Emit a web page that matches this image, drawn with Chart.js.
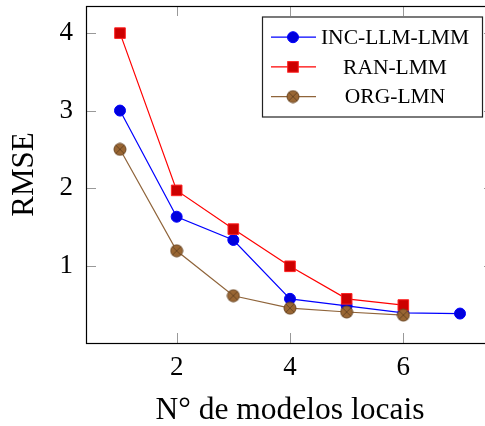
<!DOCTYPE html>
<html>
<head>
<meta charset="utf-8">
<script src="https://cdn.jsdelivr.net/npm/chart.js@4/dist/chart.umd.min.js"></script>
<style>
  html, body { margin: 0; padding: 0; background: #fff; overflow: hidden; }
  #c { display: block; }
</style>
</head>
<body>
<canvas id="c" width="495" height="426"></canvas>
<script>
// Number of local models on the x axis
const models = [1, 2, 3, 4, 5, 6, 7];
// RMSE per method
const incLlmLmm = [3.0, 1.63, 1.33, 0.57, 0.48, 0.39, 0.38];
const ranLmm    = [4.0, 1.97, 1.47, 0.99, 0.57, 0.49];
const orgLmn    = [2.5, 1.19, 0.61, 0.45, 0.40, 0.36];
// Tick labels
const xTicks = [2, 4, 6];
const yTicks = [1, 2, 3, 4];

const SERIF = '"Liberation Serif", "Times New Roman", serif';

function pairs(vals) {
  return vals.map((v, i) => ({ x: models[i], y: v }));
}

// circle-with-cross marker
function crossCircle(r, fill, stroke) {
  const s = Math.ceil(2 * r + 2);
  const cv = document.createElement('canvas');
  cv.width = s; cv.height = s;
  const g = cv.getContext('2d');
  const c = s / 2;
  g.beginPath();
  g.arc(c, c, r, 0, Math.PI * 2);
  g.fillStyle = fill;
  g.fill();
  g.lineWidth = 1;
  g.strokeStyle = stroke;
  g.stroke();
  const d = r * Math.SQRT1_2;
  g.beginPath();
  g.moveTo(c - d, c - d); g.lineTo(c + d, c + d);
  g.moveTo(c - d, c + d); g.lineTo(c + d, c - d);
  g.strokeStyle = stroke;
  g.stroke();
  return cv;
}
const brownMark = crossCircle(6, '#996633', '#6b4622');

// inward ticks and the axis frame
const framePlugin = {
  id: 'frame',
  afterDatasetsDraw(chart) {
    const { ctx, chartArea: a, scales } = chart;
    ctx.save();
    ctx.strokeStyle = '#999999';
    ctx.lineWidth = 1;
    const L = 10;
    ctx.beginPath();
    xTicks.forEach(v => {
      const px = Math.round(scales.x.getPixelForValue(v)) + 0.5;
      ctx.moveTo(px, a.bottom); ctx.lineTo(px, a.bottom - L);
      ctx.moveTo(px, a.top); ctx.lineTo(px, a.top + L);
    });
    yTicks.forEach(v => {
      const py = Math.round(scales.y.getPixelForValue(v)) + 0.5;
      ctx.moveTo(a.left, py); ctx.lineTo(a.left + L, py);
      ctx.moveTo(a.right, py); ctx.lineTo(a.right - L, py);
    });
    ctx.stroke();
    ctx.strokeStyle = '#000';
    ctx.lineWidth = 1.2;
    ctx.strokeRect(Math.round(a.left) + 0.5, Math.round(a.top) + 0.5,
                   Math.round(a.right - a.left), Math.round(a.bottom - a.top));
    ctx.restore();
  }
};

// boxed legend in the upper right of the plot area
const legendBox = {
  id: 'legendBox',
  afterDraw(chart) {
    const { ctx } = chart;
    const w = 220, h = 100;
    const x0 = 262, y0 = 16.5;
    ctx.save();
    ctx.fillStyle = '#fff';
    ctx.fillRect(x0, y0, w, h);
    ctx.strokeStyle = '#222';
    ctx.lineWidth = 1.2;
    ctx.strokeRect(x0 + 0.5, y0 + 0.5, w, h);
    [0, 1, 2].forEach((di, row) => {
      const ds = chart.data.datasets[di];
      const cy = y0 + 20.7 + row * 29.7;
      ctx.strokeStyle = ds.borderColor;
      ctx.lineWidth = 1.3;
      ctx.beginPath();
      ctx.moveTo(x0 + 9, cy); ctx.lineTo(x0 + 54, cy);
      ctx.stroke();
      const mx = x0 + 31;
      if (ds.pointStyle === 'circle') {
        ctx.beginPath();
        ctx.arc(mx, cy, ds.pointRadius, 0, Math.PI * 2);
        ctx.fillStyle = ds.pointBackgroundColor; ctx.fill();
        ctx.strokeStyle = ds.pointBorderColor; ctx.lineWidth = 1; ctx.stroke();
      } else if (ds.pointStyle === 'rect') {
        const s = ds.pointRadius * Math.SQRT1_2;
        ctx.fillStyle = ds.pointBackgroundColor;
        ctx.fillRect(mx - s, cy - s, 2 * s, 2 * s);
        ctx.strokeStyle = ds.pointBorderColor; ctx.lineWidth = 1;
        ctx.strokeRect(mx - s, cy - s, 2 * s, 2 * s);
      } else {
        const img = ds.pointStyle;
        ctx.drawImage(img, mx - img.width / 2, cy - img.height / 2);
      }
      ctx.fillStyle = '#000';
      ctx.font = '21.5px ' + SERIF;
      ctx.textAlign = 'center';
      ctx.textBaseline = 'middle';
      ctx.fillText(ds.label, x0 + 133, cy + 1);
    });
    ctx.restore();
  }
};

new Chart(document.getElementById('c'), {
  type: 'line',
  data: {
    datasets: [
      {
        label: 'INC-LLM-LMM',
        data: pairs(incLlmLmm),
        borderColor: '#0000ff',
        borderWidth: 1.2,
        pointStyle: 'circle',
        pointRadius: 5.5,
        pointBackgroundColor: '#0000dd',
        pointBorderColor: '#0000ff',
        pointBorderWidth: 1,
        order: 3
      },
      {
        label: 'RAN-LMM',
        data: pairs(ranLmm),
        borderColor: '#ff0000',
        borderWidth: 1.2,
        pointStyle: 'rect',
        pointRadius: 7.5,
        pointBackgroundColor: '#cc0000',
        pointBorderColor: '#ff2020',
        pointBorderWidth: 1,
        order: 2
      },
      {
        label: 'ORG-LMN',
        data: pairs(orgLmn),
        borderColor: '#8f643a',
        borderWidth: 1.2,
        pointStyle: brownMark,
        pointRadius: 6,
        pointBackgroundColor: '#996633',
        pointBorderColor: '#6b4622',
        order: 1
      }
    ]
  },
  options: {
    responsive: false,
    animation: false,
    devicePixelRatio: 1,
    layout: { autoPadding: false, padding: { top: 6, right: 1, left: 0, bottom: 0 } },
    plugins: { legend: { display: false }, tooltip: { enabled: false } },
    elements: { line: { tension: 0, fill: false } },
    scales: {
      x: {
        type: 'linear',
        min: 0.4,
        max: 7.6,
        grid: { display: false, drawTicks: false },
        border: { display: false },
        afterBuildTicks: s => { s.ticks = xTicks.map(v => ({ value: v })); },
        afterFit: s => { s.height = 83; s.paddingLeft = 0; s.paddingRight = 0; },
        ticks: {
          font: { family: SERIF, size: 27 },
          color: '#000',
          padding: 9,
          maxRotation: 0,
          autoSkip: false
        },
        title: {
          display: true,
          text: 'N° de modelos locais',
          font: { family: SERIF, size: 31.5, lineHeight: 1 },
          color: '#000',
          padding: { top: 0, bottom: 0 }
        }
      },
      y: {
        type: 'linear',
        min: 0,
        max: 4.35,
        grid: { display: false, drawTicks: false },
        border: { display: false },
        afterBuildTicks: s => { s.ticks = yTicks.map(v => ({ value: v })); },
        afterFit: s => { s.width = 86; s.paddingTop = 0; s.paddingBottom = 0; },
        ticks: {
          font: { family: SERIF, size: 27 },
          color: '#000',
          padding: 13,
          autoSkip: false
        },
        title: {
          display: true,
          text: 'RMSE',
          font: { family: SERIF, size: 31, lineHeight: 1 },
          color: '#000',
          padding: { top: 9, bottom: 0 }
        }
      }
    }
  },
  plugins: [framePlugin, legendBox]
});
</script>
</body>
</html>
